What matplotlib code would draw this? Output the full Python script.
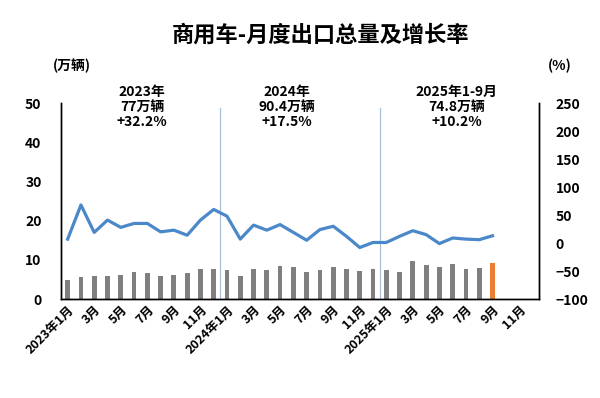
import matplotlib
matplotlib.use("Agg")
import matplotlib.pyplot as plt
import numpy as np

plt.rcParams['font.family'] = ['Noto Sans CJK SC', 'DejaVu Sans']

months = [f"{y}-{m:02d}" for y in (2023, 2024, 2025) for m in range(1, 13)]
tick_labels = []
for y in (2023, 2024, 2025):
    for m in range(1, 13, 2):
        tick_labels.append(f"{y}年{m}月" if m == 1 else f"{m}月")

volume = [4.9, 5.7, 5.9, 5.9, 6.2, 6.9, 6.6, 5.9, 6.2, 6.7, 7.6, 7.7,
          7.4, 6.0, 7.7, 7.4, 8.3, 8.1, 6.9, 7.4, 8.1, 7.6, 7.1, 7.7,
          7.4, 6.9, 9.6, 8.6, 8.2, 9.0, 7.7, 7.8, 9.2]
growth = [7, 68, 19, 41, 28, 35, 35, 20, 23, 14, 41, 60,
          48, 7, 32, 23, 33, 19, 5, 24, 30, 12, -8, 1,
          1, 12, 22, 15, -1, 9, 7, 6, 13]

annotations = [("2023年\n77万辆\n+32.2%", 5.6),
               ("2024年\n90.4万辆\n+17.5%", 16.5),
               ("2025年1-9月\n74.8万辆\n+10.2%", 29.3)]

fig = plt.figure(figsize=(6, 3.98), dpi=100)
ax = fig.add_axes([0.1017, 0.2487, 0.7966, 0.4923])
ax2 = ax.twinx()

x = np.arange(len(volume))
colors = ['#7f7f7f'] * (len(volume) - 1) + ['#ed7d31']
ax.bar(x, volume, width=0.36, color=colors, zorder=2)
ax.set_ylim(0, 50)
ax.set_xlim(-0.5, 35.5)
ax.set_yticks(range(0, 51, 10))

ax2.plot(x, growth, color='#4a88c9', lw=2.3, zorder=3)
ax2.set_ylim(-100, 250)
ax2.set_yticks(range(-100, 251, 50))

for v in (11.5, 23.5):
    ax.axvline(v, ymin=0, ymax=0.975, color='#a9c1dd', lw=0.9, zorder=1)

ax.set_xticks(range(0, 36, 2))
ax.set_xticklabels(tick_labels, rotation=45, ha='right', rotation_mode='anchor',
                   fontsize=9, fontweight='bold')
ax.tick_params(axis='x', length=0, pad=3)
ax.tick_params(axis='y', length=0, labelsize=10, pad=14)
ax2.tick_params(axis='y', length=0, labelsize=10, pad=12)
for lab in ax.get_yticklabels() + ax2.get_yticklabels():
    lab.set_fontweight('bold')

for a in (ax, ax2):
    a.spines['top'].set_visible(False)
    for s in ('left', 'right', 'bottom'):
        a.spines[s].set_color('black')
        a.spines[s].set_linewidth(1.0)

for text, xpos in annotations:
    ax.text(xpos, 54.6, text, ha='center', va='top', fontsize=10,
            fontweight='bold', linespacing=1.1, clip_on=False)

fig.text(0.535, 0.912, "商用车-月度出口总量及增长率", ha='center', va='center',
         fontsize=16, fontweight='bold')
fig.text(0.12, 0.834, "(万辆)", ha='center', va='center', fontsize=10, fontweight='bold')
fig.text(0.933, 0.834, "(%)", ha='center', va='center', fontsize=10, fontweight='bold')

fig.savefig("out.png", dpi=100, facecolor='white')
